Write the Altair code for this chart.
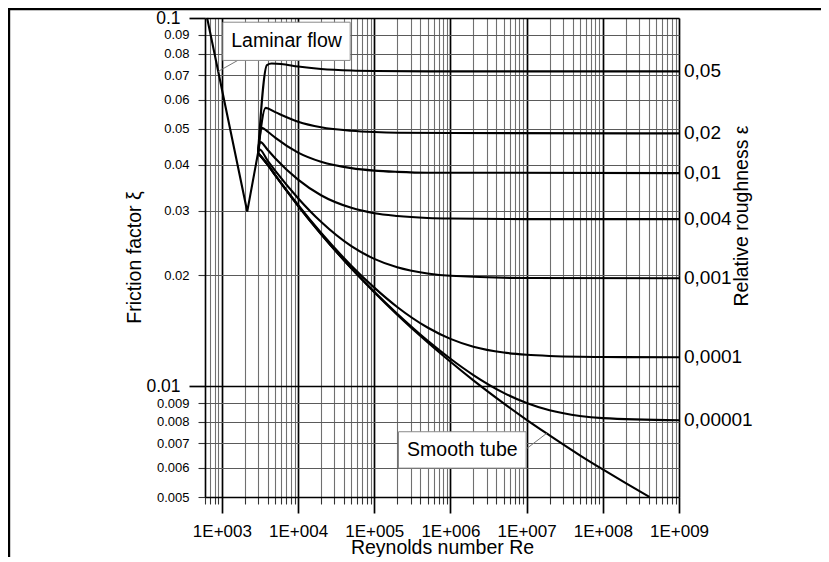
import altair as alt
import pandas as pd

FONT = "Liberation Sans"

# ---------------- data ----------------
# laminar branch (64/Re) and the transition up to the turbulent start
lam_re = [640, 2150, 2980]
lam_f = [0.1000, 0.0298, 0.0430]

re_e005 = [2980, 3900, 4500, 6000, 1e4, 2e4, 5e4, 1e5, 1e6, 1e9]
f_e005 = [0.0430, 0.0745, 0.0752, 0.0750, 0.0738, 0.0727, 0.0720, 0.0718, 0.0716, 0.0716]

re_e002 = [2980, 3750, 5000, 1e4, 2e4, 5e4, 1e5, 2e5, 1e6, 1e9]
f_e002 = [0.0430, 0.0570, 0.0555, 0.0523, 0.0505, 0.0494, 0.0490, 0.0488, 0.0487, 0.0486]

re_e001 = [2980, 3350, 4000, 5000, 1e4, 2e4, 5e4, 1e5, 2e5, 5e5, 1e6, 1e9]
f_e001 = [0.0430, 0.0503, 0.0491, 0.0473, 0.0431, 0.0407, 0.0391, 0.0385, 0.0382, 0.0380, 0.0380, 0.0379]

re_e0004 = [2980, 3200, 4000, 5000, 1e4, 2e4, 5e4, 1e5, 2e5, 5e5, 1e6, 1e7, 1e9]
f_e0004 = [0.0430, 0.0460, 0.0438, 0.0416, 0.0364, 0.0330, 0.0305, 0.0295, 0.0290, 0.02864, 0.02853, 0.02843, 0.02842]

re_e0001 = [2980, 3100, 4000, 5000, 1e4, 2e4, 5e4, 1e5, 2e5, 5e5, 1e6, 1e7, 1e9]
f_e0001 = [0.0430, 0.0440, 0.0409, 0.0385, 0.0324, 0.02795, 0.0240, 0.02217, 0.02103, 0.02024, 0.01994, 0.01967, 0.01964]

re_e1e4 = [2980, 4000, 5000, 1e4, 2e4, 5e4, 1e5, 2e5, 5e5, 1e6, 2e6, 5e6, 1e7, 2e7, 5e7, 1e8, 1e9]
f_e1e4 = [0.0430, 0.0400, 0.0375, 0.03106, 0.0261, 0.02125, 0.01852, 0.01641, 0.01443, 0.01344,
          0.0128, 0.01234, 0.01217, 0.01208, 0.01202, 0.0120, 0.01198]

re_e1e5 = [2980, 4000, 5000, 1e4, 2e4, 5e4, 1e5, 2e5, 5e5, 1e6, 2e6, 5e6, 1e7, 2e7, 5e7, 1e8, 1e9]
f_e1e5 = [0.0430, 0.0399, 0.0374, 0.0309, 0.0259, 0.0209, 0.01805, 0.01573, 0.0133, 0.01187,
          0.01072, 0.00959, 0.0090, 0.0086, 0.0083, 0.00819, 0.00808]

re_smooth = [2980, 4000, 5000, 1e4, 2e4, 5e4, 1e5, 2e5, 5e5, 1e6, 2e6, 5e6, 1e7, 2e7, 5e7, 1e8, 2e8, 4.1e8]
f_smooth = [0.0430, 0.0399, 0.0374, 0.0309, 0.0259, 0.0209, 0.0180, 0.01564, 0.01316, 0.01165,
            0.01037, 0.00898, 0.00810, 0.00735, 0.00649, 0.00594, 0.00545, 0.00500]

# right-hand roughness labels and the value each curve settles at
eps_labels = ["0,05", "0,02", "0,01", "0,004", "0,001", "0,0001", "0,00001"]
eps_asym = [0.0716, 0.0486, 0.0379, 0.02842, 0.01964, 0.01198, 0.00808]

# axis ticks
decade_values = [1000, 10000, 100000, 1000000, 10000000, 100000000, 1000000000]
decade_labels = ["1E+003", "1E+004", "1E+005", "1E+006", "1E+007", "1E+008", "1E+009"]
x_tick_values = [600, 700, 800, 900] + [m * d for d in decade_values[:-1] for m in range(1, 10)] + [decade_values[-1]]
y_tick_values = [0.005, 0.006, 0.007, 0.008, 0.009, 0.01, 0.02, 0.03, 0.04, 0.05, 0.06, 0.07, 0.08, 0.09, 0.1]
y_tick_labels = ["0.005", "0.006", "0.007", "0.008", "0.009", "0.01", "0.02", "0.03", "0.04", "0.05",
                 "0.06", "0.07", "0.08", "0.09", "0.1"]

# annotations (box corners and leader lines in data units)
lam_box = {"Re": 1030, "Re2": 48300, "f": 0.0974, "f2": 0.0767, "text": "Laminar flow"}
smooth_box = {"Re": 2.08e5, "Re2": 9.85e6, "f": 0.00752, "f2": 0.00599, "text": "Smooth tube"}
lam_leader = {"Re": 1650, "Re2": 894, "f": 0.0769, "f2": 0.0716}
smooth_leader = {"Re": 9.85e6, "Re2": 1.84e7, "f": 0.00675, "f2": 0.00745}

# ---------------- build tables ----------------
series = [("0.05", re_e005, f_e005), ("0.02", re_e002, f_e002), ("0.01", re_e001, f_e001),
          ("0.004", re_e0004, f_e0004), ("0.001", re_e0001, f_e0001), ("1e-4", re_e1e4, f_e1e4),
          ("1e-5", re_e1e5, f_e1e5), ("smooth", re_smooth, f_smooth)]
rows = []
for name, rs, fs in series:
    for r, f in zip(rs, fs):
        rows.append({"curve": name, "Re": r, "f": f})
curves_df = pd.DataFrame(rows)
lam_df = pd.DataFrame({"Re": lam_re, "f": lam_f})
box_df = pd.DataFrame([lam_box, smooth_box])
box_df["Rc"] = (box_df["Re"] * box_df["Re2"]) ** 0.5
box_df["fc"] = (box_df["f"] * box_df["f2"]) ** 0.5
leader_df = pd.DataFrame([lam_leader, smooth_leader])
lab_df = pd.DataFrame({"Re": [decade_values[-1]] * len(eps_labels), "f": eps_asym, "label": eps_labels})
one = pd.DataFrame({"k": [0]})

# ---------------- scales / axes ----------------
x_major = "indexof([" + ",".join(str(v) for v in decade_values) + "], datum.value) >= 0"
y_major = "datum.value == 0.1 || datum.value == 0.01"
x_label_expr = " : ".join(f"datum.value == {v} ? '{l}'" for v, l in zip(decade_values, decade_labels)) + " : ''"
y_label_expr = " : ".join(f"datum.value == {v} ? '{l}'" for v, l in zip(y_tick_values, y_tick_labels)) + " : ''"


def cond(test, a, b):
    return {"condition": {"test": test, "value": a}, "value": b}


xscale = alt.Scale(type="log", domain=[600, 1e9], nice=False)
yscale = alt.Scale(type="log", domain=[0.005, 0.1], nice=False)

xaxis = alt.Axis(
    values=x_tick_values, labelExpr=x_label_expr, labelOverlap=False, labelFlush=False,
    grid=True, gridColor=cond(x_major, "#000000", "#707070"), gridWidth=cond(x_major, 1.7, 1.1),
    domainColor="#000000", domainWidth=1.6,
    tickColor=cond(x_major, "#000000", "#333333"), tickWidth=cond(x_major, 1.7, 1.1),
    tickSize=cond(x_major, 16, 7),
    labelFont=FONT, labelFontSize=17, labelColor="#000000", labelPadding=10,
    title="Reynolds number Re", titleFont=FONT, titleFontSize=19.5, titleFontWeight="normal",
    titleColor="#000000", titleY=56, titleBaseline="alphabetic",
)
yaxis = alt.Axis(
    values=y_tick_values, labelExpr=y_label_expr, labelOverlap=False, labelFlush=False,
    grid=True, gridColor=cond(y_major, "#000000", "#5a5a5a"), gridWidth=cond(y_major, 1.7, 1.1),
    domainColor="#000000", domainWidth=1.6,
    tickColor=cond(y_major, "#000000", "#333333"), tickWidth=cond(y_major, 1.7, 1.1),
    tickSize=cond(y_major, 16, 7),
    labelFont=FONT, labelFontSize=cond(y_major, 17.5, 13), labelColor="#000000", labelPadding=9,
    title="Friction factor ξ", titleFont=FONT, titleFontSize=19.5, titleFontWeight="normal",
    titleColor="#000000", titleAngle=270, titleX=-71, titleY=239, titleBaseline="middle", titleAlign="center",
)


def X(field):
    return alt.X(field, type="quantitative", scale=xscale, axis=xaxis)


def Y(field):
    return alt.Y(field, type="quantitative", scale=yscale, axis=yaxis)


lines = alt.Chart(curves_df).mark_line(interpolate="monotone", strokeWidth=2.1, color="#000000").encode(
    x=X("Re"), y=Y("f"), detail="curve:N")
laminar = alt.Chart(lam_df).mark_line(strokeWidth=2.1, color="#000000").encode(x=X("Re"), y=Y("f"))
leaders = alt.Chart(leader_df).mark_rule(color="#777777", strokeWidth=1).encode(
    x=X("Re"), x2="Re2", y=Y("f"), y2="f2")
boxes = alt.Chart(box_df).mark_rect(fill="#ffffff", stroke="#8a8a8a", strokeWidth=1).encode(
    x=X("Re"), x2="Re2", y=Y("f"), y2="f2")
box_text = alt.Chart(box_df).mark_text(font=FONT, fontSize=19.5, color="#000000").encode(
    x=X("Rc"), y=Y("fc"), text="text:N")
eps_text = alt.Chart(lab_df).mark_text(font=FONT, fontSize=19, color="#000000", align="left",
                                        baseline="middle", dx=5).encode(x=X("Re"), y=Y("f"), text="label:N")
right_title = alt.Chart(one).mark_text(font=FONT, fontSize=19.5, color="#000000", angle=270,
                                        align="center", baseline="middle").encode(
    x=alt.value(537), y=alt.value(198), text=alt.value("Relative roughness ε"))
frame_top = alt.Chart(one).mark_rule(color="#000000", strokeWidth=2.4).encode(
    x=alt.value(-196), x2=alt.value(620), y=alt.value(-9))
frame_left = alt.Chart(one).mark_rule(color="#000000", strokeWidth=2.4).encode(
    x=alt.value(-196), y=alt.value(-10), y2=alt.value(545))

chart = alt.layer(
    lines, laminar, leaders, boxes, box_text, eps_text, right_title, frame_top, frame_left
).properties(
    width=474, height=479,
    autosize=alt.AutoSizeParams(type="none"),
    padding={"left": 197, "top": 10, "right": 142, "bottom": 60},
).configure_view(strokeWidth=0).configure(background="#ffffff")

chart.save("out.html", embed_options={"renderer": "svg", "actions": False})
